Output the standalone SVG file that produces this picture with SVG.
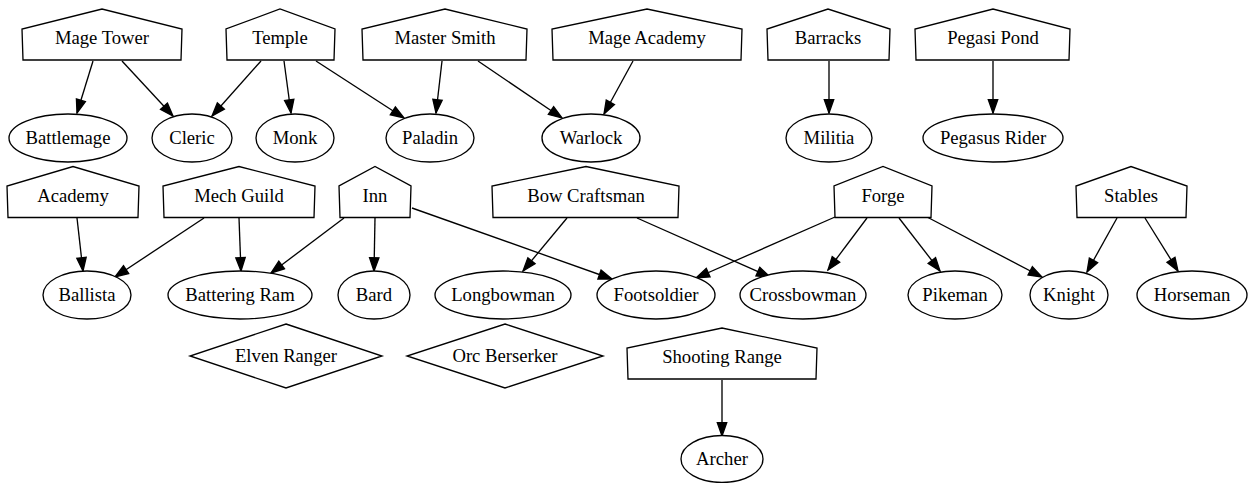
<svg xmlns="http://www.w3.org/2000/svg" width="1260" height="483" viewBox="0 0 1260 483">
<style>
.n{fill:#fff;stroke:#000;stroke-width:1.33}
.t{font-family:"Liberation Serif","Times New Roman",serif;font-size:18.67px;text-anchor:middle;fill:#000}
.e{fill:none;stroke:#000;stroke-width:1.33;marker-end:url(#ah)}
</style>
<defs>
<marker id="ah" markerUnits="userSpaceOnUse" markerWidth="16" markerHeight="12" refX="13.3" refY="0" viewBox="0 -6 16 12" orient="auto" overflow="visible">
<path d="M0,-4.7 L13.3,0 L0,4.7 z" fill="#000" stroke="#000" stroke-width="1.33"/>
</marker>
</defs>
<rect width="1260" height="483" fill="#fff"/>
<g id="edges">
<line class="e" x1="93" y1="61" x2="77" y2="113"/>
<line class="e" x1="122" y1="61" x2="173" y2="116"/>
<line class="e" x1="261" y1="61" x2="212" y2="116"/>
<line class="e" x1="284" y1="61" x2="291" y2="113"/>
<line class="e" x1="316" y1="61" x2="404" y2="118"/>
<line class="e" x1="442" y1="61" x2="436" y2="113"/>
<line class="e" x1="478" y1="61" x2="562" y2="118"/>
<line class="e" x1="633" y1="61" x2="604" y2="114"/>
<line class="e" x1="829" y1="61" x2="829" y2="113"/>
<line class="e" x1="993" y1="61" x2="993" y2="113"/>
<line class="e" x1="77" y1="218" x2="83" y2="271"/>
<line class="e" x1="204" y1="218" x2="115" y2="277"/>
<line class="e" x1="239" y1="218" x2="241" y2="271"/>
<line class="e" x1="344" y1="218" x2="271" y2="273"/>
<line class="e" x1="375" y1="218" x2="374" y2="271"/>
<line class="e" x1="412" y1="208" x2="612" y2="279"/>
<line class="e" x1="567" y1="218" x2="523" y2="271"/>
<line class="e" x1="637" y1="218" x2="770" y2="277"/>
<line class="e" x1="835" y1="217" x2="696" y2="278"/>
<line class="e" x1="867" y1="218" x2="828" y2="270"/>
<line class="e" x1="899" y1="218" x2="940" y2="271"/>
<line class="e" x1="927" y1="217" x2="1042" y2="277"/>
<line class="e" x1="1117" y1="218" x2="1087" y2="272"/>
<line class="e" x1="1145" y1="218" x2="1178" y2="271"/>
<line class="e" x1="722" y1="380" x2="722" y2="436"/>
</g>
<g id="mage_tower"><polygon class="n" points="181,60 182,29 102,9 22,29 23,60"/><text class="t" x="102" y="44">Mage Tower</text></g>
<g id="temple"><polygon class="n" points="334,60 335,29 280,9 226,29 227,60"/><text class="t" x="280" y="44">Temple</text></g>
<g id="master_smith"><polygon class="n" points="526,60 527,29 445,9 362,29 363,60"/><text class="t" x="445" y="44">Master Smith</text></g>
<g id="mage_academy"><polygon class="n" points="741,60 742,29 647,9 552,29 553,60"/><text class="t" x="647" y="44">Mage Academy</text></g>
<g id="barracks"><polygon class="n" points="889,60 890,29 828,9 767,29 768,60"/><text class="t" x="828" y="44">Barracks</text></g>
<g id="pegasi_pond"><polygon class="n" points="1069,60 1070,29 993,9 915,29 916,60"/><text class="t" x="993" y="44">Pegasi Pond</text></g>
<g id="battlemage"><ellipse class="n" cx="68" cy="138" rx="59" ry="24"/><text class="t" x="68" y="144">Battlemage</text></g>
<g id="cleric"><ellipse class="n" cx="192" cy="138" rx="40" ry="24"/><text class="t" x="192" y="144">Cleric</text></g>
<g id="monk"><ellipse class="n" cx="295" cy="138" rx="39" ry="24"/><text class="t" x="295" y="144">Monk</text></g>
<g id="paladin"><ellipse class="n" cx="430" cy="138" rx="44" ry="24"/><text class="t" x="430" y="144">Paladin</text></g>
<g id="warlock"><ellipse class="n" cx="591" cy="138" rx="49" ry="24"/><text class="t" x="591" y="144">Warlock</text></g>
<g id="militia"><ellipse class="n" cx="829" cy="138" rx="43" ry="24"/><text class="t" x="829" y="144">Militia</text></g>
<g id="pegasus_rider"><ellipse class="n" cx="993" cy="138" rx="70" ry="24"/><text class="t" x="993" y="144">Pegasus Rider</text></g>
<g id="academy"><polygon class="n" points="138,217.5 139,186 73,166.5 7,186 8,217.5"/><text class="t" x="73" y="202">Academy</text></g>
<g id="mech_guild"><polygon class="n" points="314,217.5 315,186 239,166.5 163,186 164,217.5"/><text class="t" x="239" y="202">Mech Guild</text></g>
<g id="inn"><polygon class="n" points="410,217.5 411,186 375,166.5 339,186 340,217.5"/><text class="t" x="375" y="202">Inn</text></g>
<g id="bow_craftsman"><polygon class="n" points="678,217.5 679,186 586,166.5 492,186 493,217.5"/><text class="t" x="586" y="202">Bow Craftsman</text></g>
<g id="forge"><polygon class="n" points="931,217.5 932,186 883,166.5 834,186 835,217.5"/><text class="t" x="883" y="202">Forge</text></g>
<g id="stables"><polygon class="n" points="1186,217.5 1187,186 1131,166.5 1076,186 1077,217.5"/><text class="t" x="1131" y="202">Stables</text></g>
<g id="ballista"><ellipse class="n" cx="87" cy="295" rx="44" ry="24"/><text class="t" x="87" y="301">Ballista</text></g>
<g id="battering_ram"><ellipse class="n" cx="240" cy="295" rx="72" ry="24"/><text class="t" x="240" y="301">Battering Ram</text></g>
<g id="bard"><ellipse class="n" cx="374" cy="295" rx="36" ry="24"/><text class="t" x="374" y="301">Bard</text></g>
<g id="longbowman"><ellipse class="n" cx="503" cy="295" rx="68" ry="24"/><text class="t" x="503" y="301">Longbowman</text></g>
<g id="footsoldier"><ellipse class="n" cx="656" cy="295" rx="59" ry="24"/><text class="t" x="656" y="301">Footsoldier</text></g>
<g id="crossbowman"><ellipse class="n" cx="803" cy="295" rx="63" ry="24"/><text class="t" x="803" y="301">Crossbowman</text></g>
<g id="pikeman"><ellipse class="n" cx="955" cy="295" rx="47" ry="24"/><text class="t" x="955" y="301">Pikeman</text></g>
<g id="knight"><ellipse class="n" cx="1069" cy="295" rx="39" ry="24"/><text class="t" x="1069" y="301">Knight</text></g>
<g id="horseman"><ellipse class="n" cx="1192" cy="295" rx="55" ry="24"/><text class="t" x="1192" y="301">Horseman</text></g>
<g id="elven_ranger"><polygon class="n" points="286,324 382,356 286,388 190,356"/><text class="t" x="286" y="362">Elven Ranger</text></g>
<g id="orc_berserker"><polygon class="n" points="505,324 603,356 505,388 407,356"/><text class="t" x="505" y="362">Orc Berserker</text></g>
<g id="shooting_range"><polygon class="n" points="816,379 817,348 722,328 627,348 628,379"/><text class="t" x="722" y="363">Shooting Range</text></g>
<g id="archer"><ellipse class="n" cx="722" cy="459" rx="41" ry="23.5"/><text class="t" x="722" y="465">Archer</text></g>
</svg>
